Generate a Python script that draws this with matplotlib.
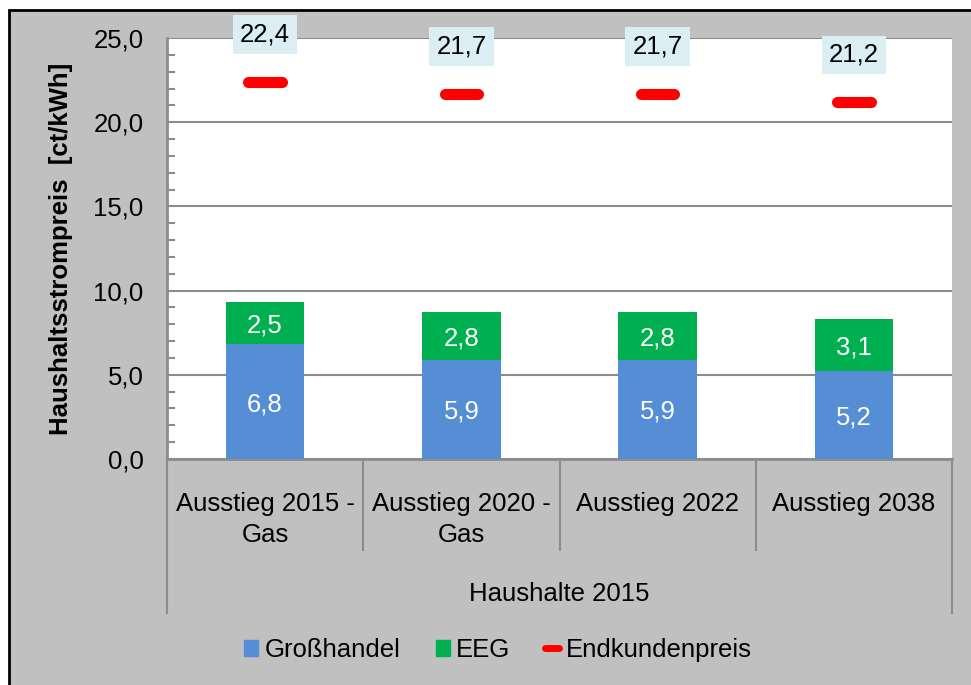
import numpy as np
import matplotlib.pyplot as plt
from matplotlib.patches import Rectangle, Patch
from matplotlib.lines import Line2D
import matplotlib.transforms as mtransforms

plt.rcParams['font.family'] = ['Liberation Sans', 'DejaVu Sans']

szenarien = ['Ausstieg 2015 -\nGas', 'Ausstieg 2020 -\nGas', 'Ausstieg 2022', 'Ausstieg 2038']
gruppe = 'Haushalte 2015'
grosshandel = [6.8, 5.9, 5.9, 5.2]
eeg = [2.5, 2.8, 2.8, 3.1]
endkunden = [22.4, 21.7, 21.7, 21.2]

blau = '#558ed5'
gruen = '#00b050'
rot = '#ff0000'
grau = '#c0c0c0'
linie = '#8c8c8c'
fs = 18.5

fig = plt.figure(figsize=(9.71, 6.85), dpi=100)
fig.patch.set_facecolor('white')
# grey chart area with black border (cut at right / bottom)
fig.patches.append(Rectangle((9 / 971, -0.05), 1.1, 1 - 10 / 685 + 0.05,
                             transform=fig.transFigure, facecolor=grau,
                             edgecolor='black', linewidth=2, zorder=-10))

ax = fig.add_axes([167 / 971, 1 - 459 / 685, (952 - 167) / 971, (459 - 38) / 685])
ax.set_facecolor('white')

x = np.arange(len(szenarien))
b1 = ax.bar(x, grosshandel, width=0.4, color=blau, zorder=3)
b2 = ax.bar(x, eeg, width=0.4, bottom=grosshandel, color=gruen, zorder=3)

for rects, vals in [(b1, grosshandel), (b2, eeg)]:
    for r, v in zip(rects, vals):
        ax.text(r.get_x() + r.get_width() / 2, r.get_y() + r.get_height() / 2 - 0.15,
                f'{v:.1f}'.replace('.', ','), ha='center', va='center',
                color='white', fontsize=fs, zorder=4)

hl = ax.hlines(endkunden, x - 0.085, x + 0.085, colors=rot, linewidth=8, zorder=4)
hl.set_capstyle('round')

for xi, v in zip(x, endkunden):
    ax.annotate(f'{v:.1f}'.replace('.', ','), (xi, v), xytext=(0, 34),
                textcoords='offset points', ha='center', va='center',
                fontsize=fs, color='black', annotation_clip=False, zorder=5,
                bbox=dict(boxstyle='square,pad=0.28', facecolor='#daeef3',
                          edgecolor='none'))

ax.set_xlim(-0.5, len(szenarien) - 0.5)
ax.set_ylim(0, 25)
ax.set_yticks(np.arange(0, 25.1, 5))
ax.set_yticks(np.arange(0, 25.1, 1), minor=True)
ax.set_yticklabels([f'{t:.1f}'.replace('.', ',') for t in np.arange(0, 25.1, 5)])
ax.tick_params(axis='y', which='both', direction='in', colors=linie,
               labelcolor='black', labelsize=fs, width=1.5, pad=17)
ax.tick_params(axis='y', which='major', length=0)
ax.tick_params(axis='y', which='minor', length=6)
ax.set_xticks([])
ax.grid(axis='y', which='major', color=linie, linewidth=1.5, zorder=0)
for s in ['top', 'right']:
    ax.spines[s].set_visible(False)
for s in ['left', 'bottom']:
    ax.spines[s].set_color(linie)
    ax.spines[s].set_linewidth(2)

ax.set_ylabel('Haushaltsstrompreis  [ct/kWh]', fontsize=fs, fontweight='bold',
              va='center')
ax.yaxis.set_label_coords((61 - 167) / 785, 0.5)

# multi-level category axis
trans = mtransforms.blended_transform_factory(ax.transData, ax.transAxes)
y1 = -(550 - 459) / 421
y2 = -(613 - 459) / 421
for xi in x[1:]:
    ax.plot([xi - 0.5, xi - 0.5], [0, y1], transform=trans, color=linie,
            lw=1.5, clip_on=False)
for xe in [x[0] - 0.5, x[-1] + 0.5]:
    ax.plot([xe, xe], [0, y2], transform=trans, color=linie, lw=1.5, clip_on=False)
for xi, lab in zip(x, szenarien):
    ax.text(xi, -(492 - 459) / 421, lab, transform=trans, ha='center', va='top',
            fontsize=fs, linespacing=1.36)
ax.text(x.mean(), -(594 - 459) / 421, gruppe, transform=trans, ha='center',
        va='center', fontsize=fs)

handles = [Patch(color=blau), Patch(color=gruen),
           Line2D([], [], color=rot, lw=5, solid_capstyle='round')]
fig.legend(handles, ['Großhandel', 'EEG', 'Endkundenpreis'], ncol=3,
           loc='center', bbox_to_anchor=(498 / 971, 1 - 650 / 685), frameon=False,
           fontsize=fs, handlelength=0.55, handleheight=0.6, handletextpad=0.25,
           columnspacing=1.36)

fig.savefig('out.png', dpi=100, facecolor=fig.get_facecolor())
